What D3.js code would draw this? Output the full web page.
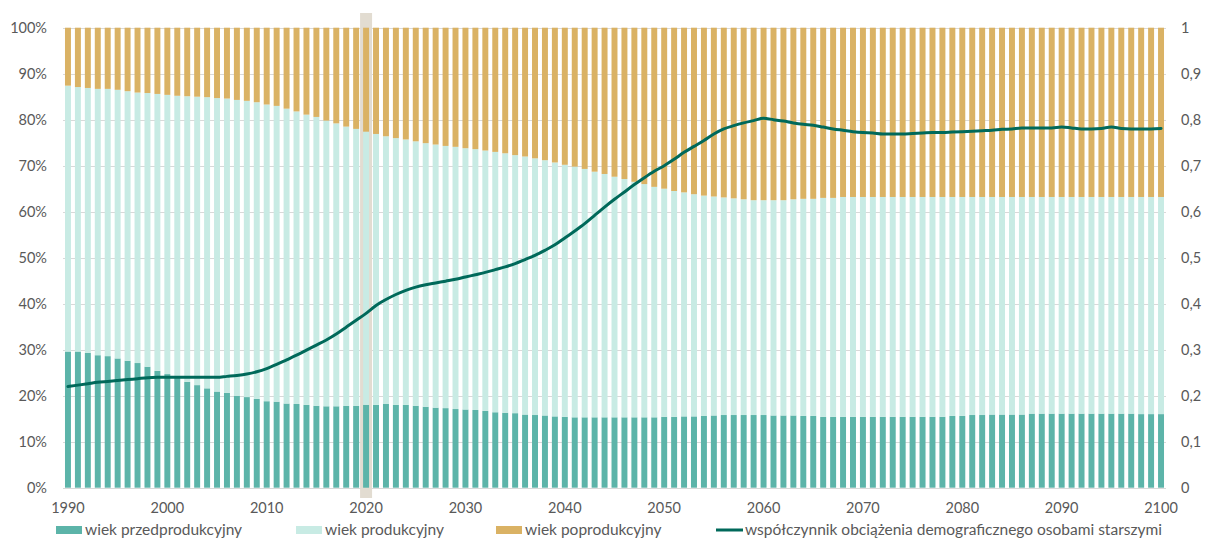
<!DOCTYPE html>
<html>
<head>
<meta charset="utf-8">
<script src="https://cdn.jsdelivr.net/npm/d3@7"></script>
<style>
  html, body { margin: 0; padding: 0; background: #fff; }
  svg { display: block; font-family: Lato, "Open Sans", sans-serif; }
</style>
</head>
<body>
<svg id="chart" width="1207" height="539"></svg>
<script>
// ---- DATA ----
const years = d3.range(1990, 2101);
const highlightYear = 2020;

// udział wieku przedprodukcyjnego (%)
const preProductive = [
  29.6, 29.6, 29.3, 28.8, 28.6, 28.1, 27.6, 27.1, 26.3, 25.4,
  24.7, 24.0, 23.0, 22.3, 21.6, 20.9, 20.6, 20.0, 19.7, 19.3,
  18.8, 18.7, 18.3, 18.2, 18.0, 17.8, 17.7, 17.7, 17.8, 17.8,
  18.0, 18.0, 18.2, 18.0, 18.0, 17.8, 17.6, 17.4, 17.3, 17.1,
  17.0, 16.9, 16.7, 16.4, 16.3, 16.2, 15.9, 15.8, 15.7, 15.5,
  15.4, 15.3, 15.3, 15.3, 15.3, 15.3, 15.3, 15.3, 15.3, 15.3,
  15.4, 15.4, 15.5, 15.5, 15.6, 15.7, 15.8, 15.8, 15.8, 15.8,
  15.8, 15.7, 15.7, 15.7, 15.6, 15.6, 15.4, 15.4, 15.4, 15.4,
  15.4, 15.4, 15.4, 15.4, 15.4, 15.4, 15.4, 15.4, 15.4, 15.6,
  15.6, 15.8, 15.8, 15.9, 15.9, 15.9, 15.9, 16.1, 16.1, 16.1,
  16.1, 16.1, 16.1, 16.1, 16.1, 16.1, 16.1, 16.1, 16.0, 16.0, 16.0
];

// udział wieku produkcyjnego (%)
const productive = [
  57.8, 57.5, 57.6, 57.9, 58.1, 58.4, 58.6, 58.8, 59.5, 60.2,
  60.7, 61.2, 62.1, 62.7, 63.3, 63.8, 64.0, 64.3, 64.4, 64.5,
  64.5, 64.3, 64.1, 63.6, 63.1, 62.8, 62.1, 61.5, 60.7, 60.2,
  59.4, 58.9, 58.2, 58.0, 57.7, 57.5, 57.3, 57.2, 57.0, 57.0,
  56.8, 56.7, 56.6, 56.6, 56.4, 56.1, 56.1, 55.8, 55.5, 55.2,
  54.8, 54.5, 54.0, 53.4, 52.9, 52.3, 51.8, 51.2, 50.7, 50.1,
  49.6, 49.1, 48.7, 48.3, 47.9, 47.6, 47.3, 47.1, 46.9, 46.7,
  46.7, 46.8, 46.8, 47.0, 47.2, 47.2, 47.6, 47.6, 47.8, 47.8,
  47.8, 47.8, 47.8, 47.8, 47.8, 47.8, 47.8, 47.8, 47.8, 47.6,
  47.6, 47.4, 47.4, 47.3, 47.3, 47.3, 47.3, 47.1, 47.1, 47.1,
  47.1, 47.1, 47.1, 47.1, 47.1, 47.1, 47.1, 47.1, 47.2, 47.2, 47.2
];

// udział wieku poprodukcyjnego (%)
const postProductive = [
  12.6, 12.9, 13.1, 13.3, 13.3, 13.5, 13.8, 14.1, 14.2, 14.4,
  14.6, 14.8, 14.9, 15.0, 15.1, 15.3, 15.4, 15.7, 15.9, 16.2,
  16.7, 17.0, 17.6, 18.2, 18.9, 19.4, 20.2, 20.8, 21.5, 22.0,
  22.6, 23.1, 23.6, 24.0, 24.3, 24.7, 25.1, 25.4, 25.7, 25.9,
  26.2, 26.4, 26.7, 27.0, 27.3, 27.7, 28.0, 28.4, 28.8, 29.3,
  29.8, 30.2, 30.7, 31.3, 31.8, 32.4, 32.9, 33.5, 34.0, 34.6,
  35.0, 35.5, 35.8, 36.2, 36.5, 36.7, 36.9, 37.1, 37.3, 37.5,
  37.5, 37.5, 37.5, 37.3, 37.2, 37.2, 37.0, 37.0, 36.8, 36.8,
  36.8, 36.8, 36.8, 36.8, 36.8, 36.8, 36.8, 36.8, 36.8, 36.8,
  36.8, 36.8, 36.8, 36.8, 36.8, 36.8, 36.8, 36.8, 36.8, 36.8,
  36.8, 36.8, 36.8, 36.8, 36.8, 36.8, 36.8, 36.8, 36.8, 36.8, 36.8
];

// współczynnik obciążenia demograficznego osobami starszymi
const oldAgeRatio = [
  0.220, 0.223, 0.226, 0.229, 0.231, 0.233, 0.235, 0.237, 0.239, 0.240,
  0.240, 0.240, 0.240, 0.240, 0.240, 0.240, 0.242, 0.244, 0.247, 0.252,
  0.259, 0.268, 0.278, 0.288, 0.299, 0.310, 0.321, 0.334, 0.349, 0.364,
  0.379, 0.396, 0.409, 0.420, 0.429, 0.436, 0.441, 0.445, 0.449, 0.453,
  0.458, 0.463, 0.468, 0.474, 0.480, 0.487, 0.496, 0.505, 0.516, 0.528,
  0.543, 0.558, 0.574, 0.592, 0.610, 0.627, 0.643, 0.659, 0.674, 0.688,
  0.700, 0.714, 0.729, 0.742, 0.755, 0.769, 0.780, 0.787, 0.793, 0.798,
  0.803, 0.800, 0.797, 0.793, 0.790, 0.788, 0.784, 0.780, 0.777, 0.774,
  0.772, 0.771, 0.769, 0.769, 0.769, 0.770, 0.771, 0.772, 0.772, 0.773,
  0.774, 0.775, 0.776, 0.777, 0.779, 0.780, 0.782, 0.782, 0.782, 0.782,
  0.784, 0.782, 0.780, 0.780, 0.781, 0.784, 0.781, 0.780, 0.780, 0.780, 0.781
];

const xTickYears = [1990, 2000, 2010, 2020, 2030, 2040, 2050, 2060, 2070, 2080, 2090, 2100];
const leftTicks = [0, 10, 20, 30, 40, 50, 60, 70, 80, 90, 100];
const leftTickLabels = ["0%", "10%", "20%", "30%", "40%", "50%", "60%", "70%", "80%", "90%", "100%"];
const rightTicks = [0, 0.1, 0.2, 0.3, 0.4, 0.5, 0.6, 0.7, 0.8, 0.9, 1];
const rightTickLabels = ["0", "0,1", "0,2", "0,3", "0,4", "0,5", "0,6", "0,7", "0,8", "0,9", "1"];

const seriesNames = ["wiek przedprodukcyjny", "wiek produkcyjny", "wiek poprodukcyjny"];
const lineName = "współczynnik obciążenia demograficznego osobami starszymi";

// ---- STYLE ----
const colors = { pre: "#5cb4a9", prod: "#c8ebe4", post: "#dab264", line: "#00695a",
                 grid: "#d9d9d9", text: "#595959", highlight: "#e2dcd1" };
const tickFont = 14.5, legendFont = 15.5;

// ---- LAYOUT ----
const svg = d3.select("#chart");
const plot = { left: 63, right: 1166, top: 27.7, bottom: 487.7 };

const x = d3.scaleBand().domain(years).range([plot.left, plot.right])
  .paddingInner(0.4).paddingOuter(0.2);
const yL = d3.scaleLinear().domain([0, 100]).range([plot.bottom, plot.top]);
const yR = d3.scaleLinear().domain([0, 1]).range([plot.bottom, plot.top]);

// gridlines
svg.append("g").selectAll("line").data(leftTicks).join("line")
  .attr("x1", plot.left).attr("x2", plot.right)
  .attr("y1", d => Math.round(yL(d)) + 0.5).attr("y2", d => Math.round(yL(d)) + 0.5)
  .attr("stroke", colors.grid).attr("stroke-width", 1);

// highlight band for 2020
const hx = x(highlightYear) + x.bandwidth() / 2;
svg.append("rect")
  .attr("x", hx - 6).attr("width", 12)
  .attr("y", 13).attr("height", 498 - 13)
  .attr("fill", colors.highlight);

// stacked bars
const table = years.map((yr, i) => ({ year: yr, pre: preProductive[i], prod: productive[i], post: postProductive[i] }));
const keys = ["pre", "prod", "post"];
const stacked = d3.stack().keys(keys)(table);

svg.append("g").selectAll("g").data(stacked).join("g")
  .attr("fill", d => colors[d.key])
  .selectAll("rect").data(d => d).join("rect")
  .attr("x", d => x(d.data.year))
  .attr("width", x.bandwidth())
  .attr("y", d => yL(d[1]))
  .attr("height", d => yL(d[0]) - yL(d[1]));

// line
const line = d3.line()
  .x((d, i) => x(years[i]) + x.bandwidth() / 2)
  .y(d => yR(d))
  .curve(d3.curveMonotoneX);
svg.append("path").datum(oldAgeRatio)
  .attr("d", line).attr("fill", "none")
  .attr("stroke", colors.line).attr("stroke-width", 3)
  .attr("stroke-linejoin", "round").attr("stroke-linecap", "round");

// left axis labels
svg.append("g").selectAll("text").data(leftTicks).join("text")
  .attr("x", 47).attr("y", d => yL(d)).attr("dy", "0.36em")
  .attr("text-anchor", "end").attr("font-size", tickFont).attr("fill", colors.text)
  .text((d, i) => leftTickLabels[i]);

// right axis labels
svg.append("g").selectAll("text").data(rightTicks).join("text")
  .attr("x", 1181).attr("y", d => yR(d)).attr("dy", "0.36em")
  .attr("text-anchor", "start").attr("font-size", tickFont).attr("fill", colors.text)
  .text((d, i) => rightTickLabels[i]);

// x axis labels
svg.append("g").selectAll("text").data(xTickYears).join("text")
  .attr("x", d => x(d) + x.bandwidth() / 2).attr("y", 513)
  .attr("text-anchor", "middle").attr("font-size", tickFont).attr("fill", colors.text)
  .text(d => d);

// legend
const legend = svg.append("g");
const legendItems = [
  { name: seriesNames[0], color: colors.pre, x: 56, type: "rect" },
  { name: seriesNames[1], color: colors.prod, x: 296, type: "rect" },
  { name: seriesNames[2], color: colors.post, x: 496, type: "rect" },
  { name: lineName, color: colors.line, x: 716, type: "line" }
];
legendItems.forEach(it => {
  if (it.type === "rect") {
    legend.append("rect").attr("x", it.x).attr("y", 526).attr("width", 26).attr("height", 8).attr("fill", it.color);
  } else {
    legend.append("line").attr("x1", it.x).attr("x2", it.x + 27).attr("y1", 530).attr("y2", 530)
      .attr("stroke", it.color).attr("stroke-width", 3);
  }
  legend.append("text").attr("x", it.x + 29).attr("y", 535)
    .attr("font-size", legendFont).attr("fill", colors.text).text(it.name);
});
</script>
</body>
</html>
